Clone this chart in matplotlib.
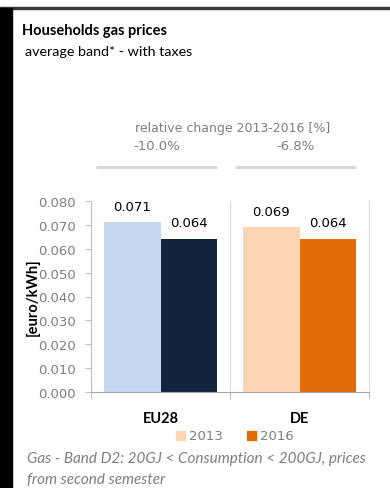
import matplotlib.pyplot as plt
from matplotlib.patches import Rectangle
from matplotlib.transforms import blended_transform_factory

# Data
countries = ['EU28', 'DE']
years = ['2013', '2016']
prices_2013 = [0.071, 0.069]
prices_2016 = [0.064, 0.064]
rel_change = [-10.0, -6.8]

colors_2013 = ['#C6D9F1', '#FCD5B5']
colors_2016 = ['#10243E', '#E46C0A']

grey_txt = '#7F7F7F'
width = 0.41

fig = plt.figure(figsize=(3.9, 4.89), dpi=100)

# frame decoration: dark top rule and black left band
fig.patches.append(Rectangle((0, 1 - 10 / 489), 1, 2.5 / 489, transform=fig.transFigure,
                             color='#3A3A3A', zorder=0))
fig.patches.append(Rectangle((0, 0), 12 / 390, 1 - 9 / 489, transform=fig.transFigure,
                             color='black', zorder=0))

ax = fig.add_axes([91 / 390, 1 - 393 / 489, 278 / 390, 191 / 489])

x = list(range(len(countries)))
x13 = [i - width / 2 for i in x]
x16 = [i + width / 2 for i in x]
ax.bar(x13, prices_2013, width=width, color=colors_2013, zorder=2)
ax.bar(x16, prices_2016, width=width, color=colors_2016, zorder=2)

for xs, vals in ((x13, prices_2013), (x16, prices_2016)):
    for xi, v in zip(xs, vals):
        ax.annotate(f'{v:.3f}', (xi, v), xytext=(0, 7), textcoords='offset points',
                    ha='center', va='bottom', fontsize=9.5, family='DejaVu Sans', color='black')

ax.set_xlim(-0.5, 1.5)
ax.set_ylim(0, 0.08)
ax.set_yticks([i / 100 for i in range(9)])
ax.set_yticklabels([f'{i / 100:.3f}' for i in range(9)])
ax.tick_params(axis='y', colors='#BFBFBF', labelcolor=grey_txt, labelsize=9.5, length=4,
               width=0.8, direction='out', pad=7)

ax.set_xticks([-0.5, 0.5, 1.5])
ax.set_xticklabels([])
ax.tick_params(axis='x', colors='#BFBFBF', length=5, width=0.8)

ax.spines['top'].set_visible(False)
ax.spines['left'].set_color('#BFBFBF')
ax.spines['right'].set_color('#D9D9D9')
ax.spines['bottom'].set_color('#A6A6A6')
ax.axvline(0.5, color='#D9D9D9', lw=0.8, zorder=1)

# category labels
for xi, name in zip(x, countries):
    ax.text(xi, -0.011, name, ha='center', va='center', fontsize=10.5,
            fontweight='bold', family='Lato')

ax.set_ylabel('[euro/kWh]', fontsize=10.5, fontweight='bold', family='Lato')
ax.yaxis.set_label_coords(-0.183, 0.5)

# relative change header
trans = blended_transform_factory(ax.transData, ax.transAxes)
ax.text(0.51, 1.387, 'relative change 2013-2016 [%]', transform=ax.transAxes,
        ha='center', va='center', fontsize=9, color=grey_txt, family='DejaVu Sans')
for xi, rc in zip(x, rel_change):
    ax.text(xi - 0.03, 1.288, f'{rc:.1f}%', transform=trans, ha='center', va='center',
            fontsize=9.5, color=grey_txt, family='DejaVu Sans')
    ax.plot([xi - 0.465, xi + 0.405], [1.178, 1.178], transform=trans, color='#D9D9D9',
            lw=2.2, clip_on=False, solid_capstyle='butt')

# legend
for xi, yr, c in zip([176, 247], years, [colors_2013[1], colors_2016[1]]):
    fig.patches.append(Rectangle((xi / 390, 1 - 441 / 489), 9 / 390, 9 / 489,
                                 transform=fig.transFigure, color=c))
    fig.text((xi + 13) / 390, 1 - 437 / 489, yr, ha='left', va='center', fontsize=9.5,
             color=grey_txt, family='DejaVu Sans')

# titles
fig.text(22 / 390, 1 - 31 / 489, 'Households gas prices', ha='left', va='center',
         fontsize=10.5, fontweight='bold', family='Lato')
fig.text(25 / 390, 1 - 52 / 489, 'average band* - with taxes', ha='left', va='center',
         fontsize=10.3, family='Lato')

# footnote
fig.text(27 / 390, 1 - 459 / 489, 'Gas - Band D2: 20GJ < Consumption < 200GJ, prices',
         ha='left', va='center', fontsize=11, style='italic', color=grey_txt, family='Lato')
fig.text(27 / 390, 1 - 480 / 489, 'from second semester',
         ha='left', va='center', fontsize=11, style='italic', color=grey_txt, family='Lato')

fig.savefig('out.png', dpi=100)
